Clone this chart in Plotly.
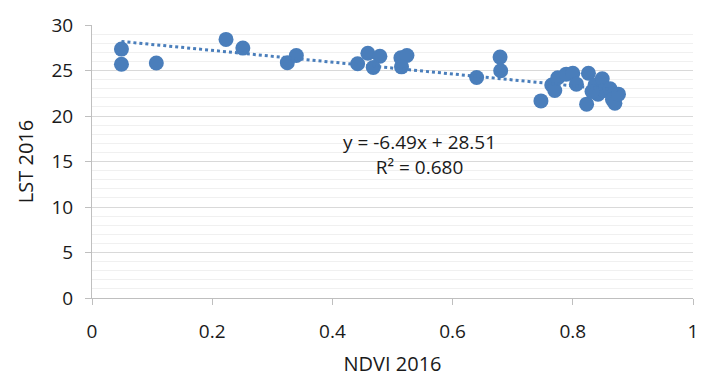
import plotly.graph_objects as go

ndvi = [0.049, 0.049, 0.107, 0.223, 0.251, 0.325, 0.340, 0.442, 0.459, 0.479, 0.468,
        0.514, 0.524, 0.515, 0.640, 0.679, 0.680,
        0.747, 0.765, 0.770, 0.775, 0.789, 0.800, 0.806, 0.826, 0.823, 0.837, 0.849,
        0.842, 0.852, 0.862, 0.866, 0.870, 0.876, 0.832]
lst = [27.35, 25.69, 25.83, 28.42, 27.46, 25.86, 26.65, 25.75, 26.89, 26.57, 25.33,
       26.39, 26.65, 25.40, 24.23, 26.47, 24.97,
       21.66, 23.4, 22.8, 24.2, 24.6, 24.7, 23.5, 24.7, 21.3, 23.4, 24.1,
       22.4, 22.8, 23.0, 21.8, 21.4, 22.4, 22.7]

slope = -6.49
intercept = 28.51
r2 = 0.680

x_ticks = [0, 0.2, 0.4, 0.6, 0.8, 1]
x_tick_labels = ["0", "0.2", "0.4", "0.6", "0.8", "1"]
y_ticks = [0, 5, 10, 15, 20, 25, 30]

color = "#4a7ebb"
font = "Open Sans"
text_color = "#1a1a1a"

fig = go.Figure()
fig.add_trace(go.Scatter(x=ndvi, y=lst, mode="markers",
                         marker=dict(size=15, color=color), showlegend=False))
xmin, xmax = min(ndvi), max(ndvi)
fig.add_trace(go.Scatter(x=[xmin, xmax], y=[slope * xmin + intercept, slope * xmax + intercept],
                         mode="lines", line=dict(color=color, width=3, dash="dot"),
                         showlegend=False))

fig.add_annotation(x=0.545, y=15.8, xref="x", yref="y", showarrow=False,
                   text=f"y = {slope}x + {intercept}<br>R² = {r2:.3f}",
                   font=dict(family=font, size=19, color=text_color), align="center")

fig.update_layout(
    width=710, height=385,
    margin=dict(l=92, r=15, t=17, b=87),
    plot_bgcolor="white", paper_bgcolor="white",
    font=dict(family=font, size=19, color=text_color),
    xaxis=dict(range=[0, 1], tickvals=x_ticks, ticktext=x_tick_labels,
               showgrid=False, zeroline=False, showline=True, linecolor="#bfbfbf",
               linewidth=1, ticks="outside", ticklen=6, tickcolor="#bfbfbf",
               ticklabelstandoff=10,
               title=dict(text="NDVI 2016", font=dict(size=20), standoff=14)),
    yaxis=dict(range=[0, 30], tickvals=y_ticks, showgrid=True, gridcolor="#d9d9d9",
               zeroline=False, showline=True, linecolor="#bfbfbf", linewidth=1,
               ticks="outside", ticklen=6, tickcolor="#bfbfbf",
               ticklabelstandoff=8,
               minor=dict(dtick=1, showgrid=True, gridcolor="#f0f0f0"),
               title=dict(text="LST 2016", font=dict(size=20), standoff=12)),
)

fig.write_html("out.html")
